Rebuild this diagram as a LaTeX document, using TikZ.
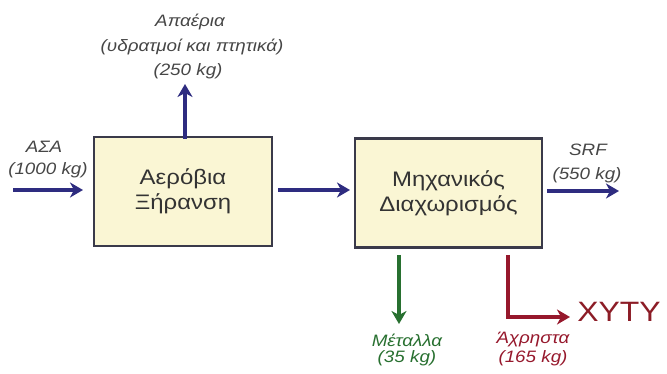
\documentclass[tikz,border=0pt]{standalone}
\usepackage{fontspec}
\setmainfont[FakeStretch=1.14]{Liberation Sans}
\usetikzlibrary{arrows.meta}
\definecolor{boxfill}{RGB}{250,246,212}
\definecolor{boxdraw}{RGB}{58,58,74}
\definecolor{flowblue}{RGB}{46,44,128}
\definecolor{flowgreen}{RGB}{40,112,48}
\definecolor{flowred}{RGB}{150,24,44}
\definecolor{labgray}{RGB}{70,70,70}
\definecolor{xytyred}{RGB}{140,28,38}
\tikzset{
  procbox/.style={draw=boxdraw, line width=2.5pt, fill=boxfill, align=center,
    font=\fontsize{21}{25}\selectfont, text=black!80, inner sep=0pt},
  flow/.style={line width=3.5pt, -{Stealth[length=13pt,width=15pt,inset=4pt]}},
  lab/.style={font=\fontsize{16.5}{20}\selectfont\itshape, text=labgray, inner sep=0pt},
}
\begin{document}
\begin{tikzpicture}[x=1pt,y=-1pt]
\useasboundingbox (0,0) rectangle (667,374);
% boxes
\node[procbox, minimum width=178pt, minimum height=109pt] (b1) at (183,191.5) {Αερόβια\\Ξήρανση};
\node[procbox, minimum width=187pt, minimum height=109pt] (b2) at (448.5,193) {Μηχανικός\\Διαχωρισμός};
% coordinates
\coordinate (inS) at (13,190);
\coordinate (inE) at (83,190);
\coordinate (upS) at (185,139);
\coordinate (upE) at (185,84);
\coordinate (midS) at (278,190);
\coordinate (midE) at (350,190);
\coordinate (srfS) at (547,191);
\coordinate (srfE) at (619,191);
\coordinate (gS) at (399,255);
\coordinate (gE) at (399,324);
\coordinate (rS) at (508,255);
\coordinate (rE) at (570,317);
% arrows
\draw[flow, flowblue] (inS) -- (inE);
\draw[flow, flowblue] (upS) -- (upE);
\draw[flow, flowblue] (midS) -- (midE);
\draw[flow, flowblue] (srfS) -- (srfE);
\draw[flow, flowgreen] (gS) -- (gE);
\draw[flow, flowred, line join=miter] (rS) |- (rE);
% labels
\node[lab] (l1a) at (190,22) {Απαέρια};
\node[lab] (l1b) at (192,47) {(υδρατμοί και πτητικά)};
\node[lab] (l1c) at (188,71) {(250 kg)};
\node[lab] (l2a) at (44,147) {ΑΣΑ};
\node[lab] (l2b) at (48,170) {(1000 kg)};
\node[lab] (l3a) at (588,150) {SRF};
\node[lab] (l3b) at (587,175) {(550 kg)};
\node[lab, text=flowgreen] (l4a) at (407,340) {Μέταλλα};
\node[lab, text=flowgreen] (l4b) at (407,358) {(35 kg)};
\node[lab, text=flowred] (l5a) at (533,340) {Άχρηστα};
\node[lab, text=flowred] (l5b) at (533,358) {(165 kg)};
\node[font=\fontsize{28}{30}\selectfont, text=xytyred, inner sep=0pt] (xyty) at (619,312) {XYTY};
\end{tikzpicture}
\end{document}
